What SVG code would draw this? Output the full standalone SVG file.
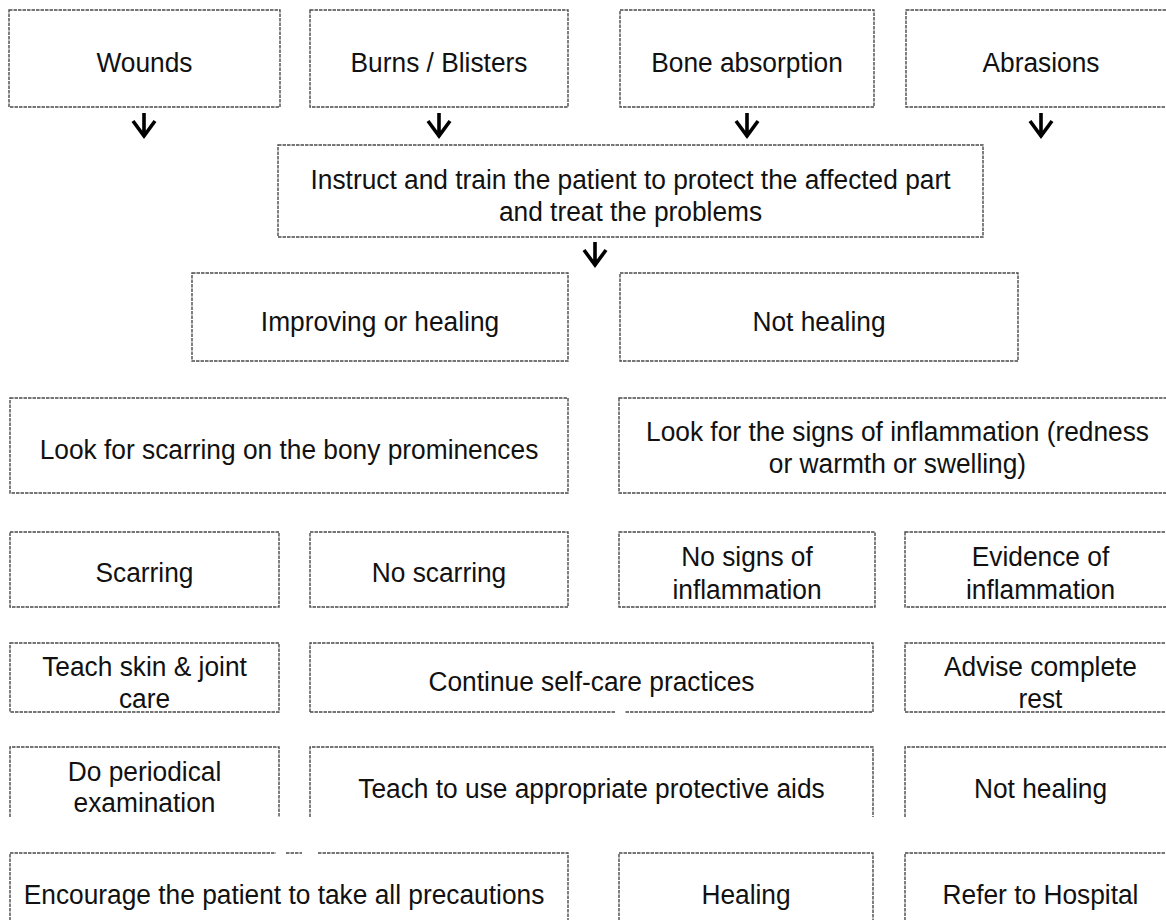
<svg xmlns="http://www.w3.org/2000/svg" width="1166" height="920" viewBox="0 0 1166 920">
<defs>
<style>
.b{fill:none;stroke:#4a4a4a;stroke-width:1.4;stroke-dasharray:3.5 1}
.s{fill:none;stroke:#d0d0d0;stroke-width:1;stroke-dasharray:2 1}
.t{font-family:"Liberation Sans",Arial,sans-serif;font-size:28px;fill:#111;text-anchor:middle}
.a{fill:none;stroke:#000;stroke-width:3.6;stroke-linejoin:miter}
</style>
</defs>
<rect width="1166" height="920" fill="#fff"/>
<g id="connectors">
<path class="a" d="M144,113V137M133,121L144,136L155,121"/>
<path class="a" d="M439,113V137M428,121L439,136L450,121"/>
<path class="a" d="M747,113V137M736,121L747,136L758,121"/>
<path class="a" d="M1041,113V137M1030,121L1041,136L1052,121"/>
<path class="a" d="M595,242V266M584,250L595,265L606,250"/>
</g>
<g id="n-wounds"><rect class="b" x="9" y="10" width="271" height="97"/><text class="t" transform="translate(144.5 72) scale(.94 1)">Wounds</text></g>
<g id="n-burns"><rect class="b" x="310" y="10" width="258" height="97"/><text class="t" transform="translate(439 72) scale(.94 1)">Burns / Blisters</text></g>
<g id="n-bone"><rect class="b" x="620" y="10" width="254" height="97"/><text class="t" transform="translate(747 72) scale(.94 1)">Bone absorption</text></g>
<g id="n-abrasions"><rect class="b" x="906" y="10" width="270" height="97"/><text class="t" transform="translate(1041 72) scale(.94 1)">Abrasions</text></g>
<g id="n-instruct"><rect class="b" x="278" y="145" width="705" height="92"/><text class="t" transform="translate(630.5 189) scale(.94 1)">Instruct and train the patient to protect the affected part</text><text class="t" transform="translate(630.5 221) scale(.94 1)">and treat the problems</text></g>
<g id="n-improving"><rect class="b" x="192" y="273" width="376" height="88"/><text class="t" transform="translate(380 331) scale(.94 1)">Improving or healing</text></g>
<g id="n-nothealing1"><rect class="b" x="620" y="273" width="398" height="88"/><text class="t" transform="translate(819 331) scale(.94 1)">Not healing</text></g>
<g id="n-lookscar"><rect class="b" x="10" y="398" width="558" height="95"/><text class="t" transform="translate(289 459) scale(.94 1)">Look for scarring on the bony prominences</text></g>
<g id="n-looksigns"><rect class="b" x="619" y="398" width="557" height="95"/><text class="t" transform="translate(897.5 441) scale(.94 1)">Look for the signs of inflammation (redness</text><text class="t" transform="translate(897.5 473) scale(.94 1)">or warmth or swelling)</text></g>
<g id="n-scarring"><rect class="b" x="10" y="532" width="269" height="75"/><text class="t" transform="translate(144.5 582) scale(.94 1)">Scarring</text></g>
<g id="n-noscarring"><rect class="b" x="310" y="532" width="258" height="75"/><text class="t" transform="translate(439 582) scale(.94 1)">No scarring</text></g>
<g id="n-nosigns"><rect class="b" x="619" y="532" width="256" height="75"/><text class="t" transform="translate(747 566) scale(.94 1)">No signs of</text><text class="t" transform="translate(747 599) scale(.94 1)">inflammation</text></g>
<g id="n-evidence"><rect class="b" x="905" y="532" width="271" height="75"/><text class="t" transform="translate(1040.5 566) scale(.94 1)">Evidence of</text><text class="t" transform="translate(1040.5 599) scale(.94 1)">inflammation</text></g>
<g id="n-teachskin"><rect class="b" x="10" y="643" width="269" height="69"/><text class="t" transform="translate(144.5 676) scale(.94 1)">Teach skin &amp; joint</text><text class="t" transform="translate(144.5 708) scale(.94 1)">care</text></g>
<g id="n-continue"><path class="b" d="M310,712V643H873V712H625M615,712H310"/><text class="t" transform="translate(591.5 691) scale(.94 1)">Continue self-care practices</text></g>
<g id="n-advise"><rect class="b" x="905" y="643" width="271" height="69"/><text class="t" transform="translate(1040.5 676) scale(.94 1)">Advise complete</text><text class="t" transform="translate(1040.5 708) scale(.94 1)">rest</text></g>
<g id="n-periodical"><path class="b" d="M10,817V747H279V817"/><text class="t" transform="translate(144.5 781) scale(.94 1)">Do periodical</text><text class="t" transform="translate(144.5 812) scale(.94 1)">examination</text></g>
<g id="n-teachaids"><path class="b" d="M310,817V747H873V817"/><text class="t" transform="translate(591.5 798) scale(.94 1)">Teach to use appropriate protective aids</text></g>
<g id="n-nothealing2"><path class="b" d="M905,817V747H1176"/><text class="t" transform="translate(1040.5 798) scale(.94 1)">Not healing</text></g>
<g id="n-encourage"><path class="b" d="M10,925V853H276M286,853H302M318,853H568V925"/><text class="t" transform="translate(284 904) scale(.94 1)">Encourage the patient to take all precautions</text></g>
<g id="n-healing"><path class="b" d="M619,925V853H873V925"/><text class="t" transform="translate(746 904) scale(.94 1)">Healing</text></g>
<g id="n-refer"><path class="b" d="M905,925V853H1176"/><text class="t" transform="translate(1040.5 904) scale(.94 1)">Refer to Hospital</text></g>
</svg>
